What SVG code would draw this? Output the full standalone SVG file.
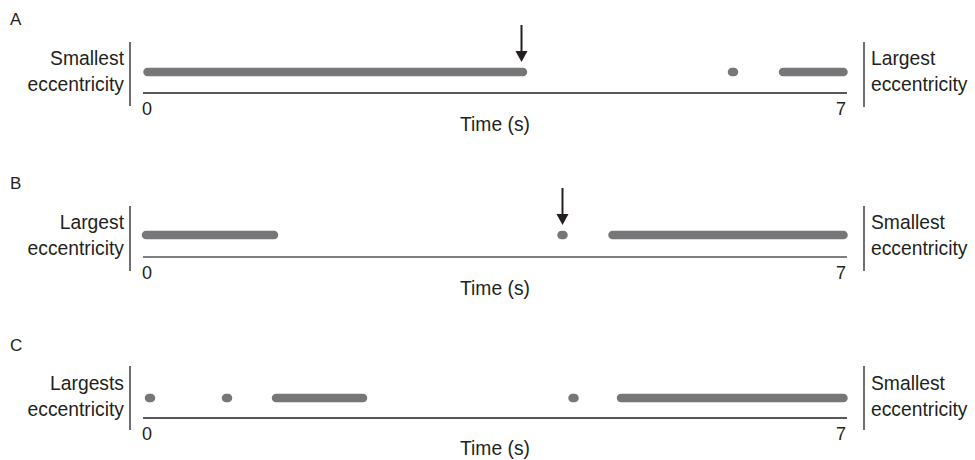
<svg xmlns="http://www.w3.org/2000/svg" width="975" height="460" viewBox="0 0 975 460">
<style>
text{font-family:"Liberation Sans",Arial,sans-serif;font-size:19.3px;fill:#231f20}
.lab{font-size:17px}
.num{font-size:18px}
.seg{stroke:#77777a;stroke-width:8.5;stroke-linecap:round;fill:none}
.axis{stroke:#231f20;stroke-width:1.4}
.bar{stroke:#231f20;stroke-width:1.3}
.arr{stroke:#231f20;stroke-width:2}
.e{text-anchor:end}
.m{text-anchor:middle}
</style>
<g id="panelA">
<text class="lab" x="10" y="25">A</text>
<line class="bar" x1="130" y1="42" x2="130" y2="106"/>
<text class="e" x="124" y="65">Smallest</text>
<text class="e" x="124" y="91">eccentricity</text>
<line class="axis" x1="143" y1="93" x2="847" y2="93"/>
<text class="num" x="142" y="115">0</text>
<text class="num e" x="846" y="115">7</text>
<text class="m" x="495" y="131">Time (s)</text>
<line class="seg" x1="147.5" y1="72" x2="523" y2="72"/>
<line class="seg" x1="732" y1="72" x2="734" y2="72"/>
<line class="seg" x1="783" y1="72" x2="843.5" y2="72"/>
<line class="bar" x1="864" y1="42" x2="864" y2="107"/>
<text x="871" y="65">Largest</text>
<text x="871" y="91">eccentricity</text>
</g>
<g id="panelB">
<text class="lab" x="10" y="189">B</text>
<line class="bar" x1="130" y1="206" x2="130" y2="271"/>
<text class="e" x="124" y="229">Largest</text>
<text class="e" x="124" y="255">eccentricity</text>
<line class="axis" x1="143" y1="257" x2="847" y2="257" style="stroke:#555"/>
<text class="num" x="142" y="279">0</text>
<text class="num e" x="846" y="279">7</text>
<text class="m" x="495" y="295">Time (s)</text>
<line class="seg" x1="146" y1="235" x2="274" y2="235"/>
<line class="seg" x1="561.5" y1="235" x2="563.5" y2="235"/>
<line class="seg" x1="612.5" y1="235" x2="843.5" y2="235"/>
<line class="bar" x1="864" y1="206" x2="864" y2="271"/>
<text x="871" y="229">Smallest</text>
<text x="871" y="255">eccentricity</text>
</g>
<g id="panelC">
<text class="lab" x="10" y="351">C</text>
<line class="bar" x1="130" y1="366" x2="130" y2="430"/>
<text class="e" x="124" y="390">Largests</text>
<text class="e" x="124" y="416">eccentricity</text>
<line class="axis" x1="143" y1="418" x2="847" y2="418"/>
<text class="num" x="142" y="440">0</text>
<text class="num e" x="846" y="440">7</text>
<text class="m" x="495" y="455">Time (s)</text>
<line class="seg" x1="149" y1="398" x2="151" y2="398"/>
<line class="seg" x1="226" y1="398" x2="228" y2="398"/>
<line class="seg" x1="276" y1="398" x2="363" y2="398"/>
<line class="seg" x1="572.5" y1="398" x2="574.5" y2="398"/>
<line class="seg" x1="621" y1="398" x2="843.5" y2="398"/>
<line class="bar" x1="864" y1="366" x2="864" y2="430"/>
<text x="871" y="390">Smallest</text>
<text x="871" y="416">eccentricity</text>
</g>
<g id="connectors">
<line class="arr" x1="521.5" y1="25" x2="521.5" y2="52"/>
<path d="M515.5,51 L527.5,51 L521.5,62 Z" fill="#231f20"/>
<line class="arr" x1="562.5" y1="188" x2="562.5" y2="215"/>
<path d="M556.5,214 L568.5,214 L562.5,225 Z" fill="#231f20"/>
</g>
</svg>
